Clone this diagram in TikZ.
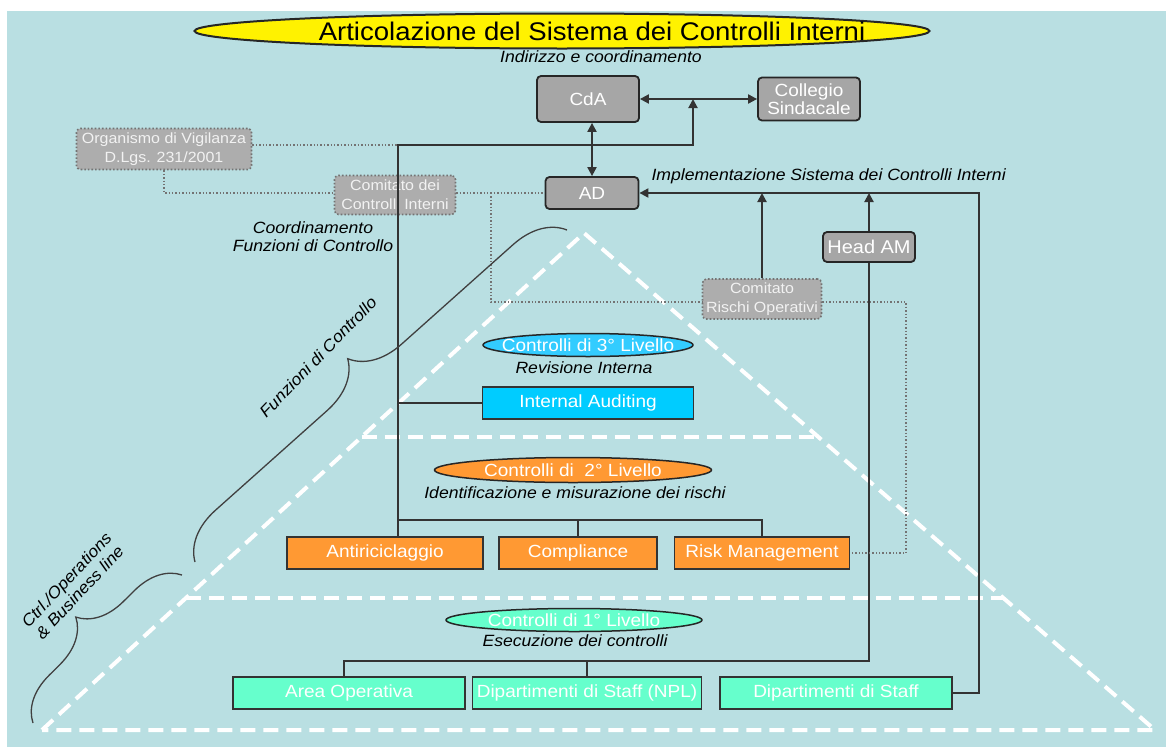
\documentclass[tikz,border=0pt]{standalone}
\usepackage{fontspec}
\setmainfont{Liberation Sans}
\newfontfamily\wfont[FakeStretch=1.08]{Liberation Sans}
\usetikzlibrary{shapes.geometric,arrows.meta,calc,decorations.pathreplacing}
\definecolor{bgblue}{HTML}{B9DFE2}
\definecolor{boxgray}{HTML}{A6A6A6}
\definecolor{dotgray}{HTML}{ADADAD}
\definecolor{lineg}{HTML}{333333}
\definecolor{skyA}{HTML}{33CCFF}
\definecolor{skyB}{HTML}{00CCFF}
\definecolor{orng}{HTML}{FF9933}
\definecolor{mint}{HTML}{66FFCC}
\begin{document}
\begin{tikzpicture}[x=1pt,y=-1pt,
  gbox/.style={draw=black!85,line width=1.8pt,rounded corners=4pt,fill=boxgray,text=white,
    font=\wfont\fontsize{17.6}{18.5}\selectfont,align=center,inner sep=0pt},
  dbox/.style={draw=black!55,dotted,line width=1.6pt,rounded corners=4pt,fill=dotgray,text=white!95!black,
    font=\wfont\fontsize{14.8}{19}\selectfont,align=center,inner sep=0pt},
  cbox/.style={draw=black!80,line width=1.8pt,text=white,font=\wfont\fontsize{17.6}{20}\selectfont,
    inner sep=0pt,minimum height=32},
  lvl/.style={ellipse,draw=black!85,line width=1.5pt,inner sep=0pt},
  wtxt/.style={text=white,font=\wfont\fontsize{17.6}{20}\selectfont},
  itxt/.style={font=\wfont\itshape\fontsize{16.3}{18}\selectfont,align=center},
  conn/.style={draw=lineg,line width=2pt},
  arr/.style={conn,-{Triangle[length=9pt,width=9pt]}},
  darr/.style={conn,{Triangle[length=9pt,width=9pt]}-{Triangle[length=9pt,width=9pt]}},
  dotline/.style={draw=black!55,dotted,line width=1.4pt},
  tri/.style={draw=white,line width=4pt,dash pattern=on 15pt off 8pt,line join=round},
  crl/.style={draw=black!75,line width=1.3pt,decorate,decoration={brace,amplitude=#1}}]
  \useasboundingbox (0,0) rectangle (1166,747);
  \fill[white] (0,0) rectangle (1166,747);
  \fill[bgblue] (7,11) rectangle (1166,747);

  \coordinate (apex) at (584,233);
  \coordinate (tl) at (42,730);
  \coordinate (tr) at (1155,730);
  \draw[tri] (tl) -- (apex) -- (tr) -- cycle;
  \draw[tri] ($(apex)!0.4105!(tl)$) -- ($(apex)!0.4105!(tr)$);
  \draw[tri] ($(apex)!0.7344!(tl)$) -- ($(apex)!0.7344!(tr)$);

  \node[lvl,fill=yellow,line width=2pt,minimum width=735,minimum height=35] (title) at (562,31) {};
  \node[font=\wfont\fontsize{25.5}{28}\selectfont] (titlet) at (592,31) {Articolazione del Sistema dei Controlli Interni};
  \node[itxt] (indir) at (601,57) {Indirizzo e coordinamento};

  \node[gbox,minimum width=102,minimum height=46] (cda) at (588,99) {CdA};
  \node[gbox,minimum width=102,minimum height=43] (coll) at (809,99) {Collegio\\Sindacale};
  \node[gbox,minimum width=93,minimum height=32] (ad) at (592,193) {AD};
  \node[gbox,minimum width=92,minimum height=30,font=\wfont\fontsize{18.5}{20}\selectfont] (head) at (869,247) {Head AM};
  \node[dbox,minimum width=175,minimum height=41] (odv) at (164,149) {Organismo di Vigilanza\\D.Lgs. 231/2001};
  \node[dbox,minimum width=121,minimum height=39] (cci) at (395,195) {Comitato dei\\Controlli Interni};
  \node[dbox,minimum width=119,minimum height=40] (cro) at (762,299) {Comitato\\Rischi Operativi};
  \node[itxt,anchor=west] (impl) at (648,176) {Implementazione Sistema dei Controlli Interni};
  \node[itxt] (coord) at (313,237) {Coordinamento\\Funzioni di Controllo};

  \node[lvl,fill=skyA,minimum width=210,minimum height=23] (lvl3) at (588,345) {};
  \node[wtxt] (lvl3t) at (lvl3) {Controlli di 3° Livello};
  \node[itxt] (rev) at (584,368) {Revisione Interna};
  \node[cbox,fill=skyB,minimum width=211] (ia) at (588,403) {Internal Auditing};

  \node[lvl,fill=orng,minimum width=277,minimum height=25] (lvl2) at (573,470) {};
  \node[wtxt] (lvl2t) at (lvl2) {Controlli di~~2° Livello};
  \node[itxt] (ident) at (575,493) {Identificazione e misurazione dei rischi};
  \node[cbox,fill=orng,minimum width=196] (anti) at (385,553) {Antiriciclaggio};
  \node[cbox,fill=orng,minimum width=158] (comp) at (578,553) {Compliance};
  \node[cbox,fill=orng,minimum width=175] (risk) at (762,553) {Risk Management};

  \node[lvl,fill=mint,minimum width=256,minimum height=23] (lvl1) at (574,620) {};
  \node[wtxt] (lvl1t) at (lvl1) {Controlli di 1° Livello};
  \node[itxt] (esec) at (575,641) {Esecuzione dei controlli};
  \node[cbox,fill=mint,minimum width=232] (area) at (349,693) {Area Operativa};
  \node[cbox,fill=mint,minimum width=229] (npl) at (587,693) {Dipartimenti di Staff (NPL)};
  \node[cbox,fill=mint,minimum width=232] (staff) at (836,693) {Dipartimenti di Staff};

  \coordinate (top) at (398,145);
  \coordinate (j1) at (693,99);
  \coordinate (b2) at (398,520);
  \coordinate (b1) at (344,661);
  \coordinate (r1) at (979,193);
  \coordinate (d1) at (491,193);
  \coordinate (d2) at (906,553);

  \draw[darr] (cda.east) -- (cda.east -| coll.west);
  \draw[darr] (ad.north) -- (ad.north |- cda.south);
  \draw[arr] (anti.north -| b2) -- (top) -| (j1);
  \draw[conn] (b2) -| (comp.north);
  \draw[conn] (b2) -| (risk.north);
  \draw[conn] (top |- ia.west) -- (ia.west);
  \draw[arr] (staff.east) -| (r1) -- (ad.east);
  \draw[arr] (head.north) -- (head.north |- r1);
  \draw[arr] (cro.north) -- (cro.north |- r1);
  \draw[conn] (head.south) |- (b1) -- (b1 |- area.north);
  \draw[conn] (npl.north) -- (npl.north |- b1);

  \draw[dotline] (odv.east |- top) -- (top);
  \draw[dotline] (odv.south) |- (cci.west |- ad.west);
  \draw[dotline] (cci.east |- ad.west) -- (ad.west);
  \draw[dotline] (d1) |- (cro.west |- 0,302);
  \draw[dotline] (cro.east |- 0,302) -| (d2) -- (risk.east);

  \draw[crl=50pt] (195,562) -- (567,230);
  \draw[crl=45pt] (33,723) -- (182,575);
  \node[itxt,rotate=46] (fdc) at (318,357) {Funzioni di Controllo};
  \node[itxt,rotate=47] (ctrl) at (73,586) {Ctrl./Operations\\\& Business line};
\end{tikzpicture}
\end{document}
